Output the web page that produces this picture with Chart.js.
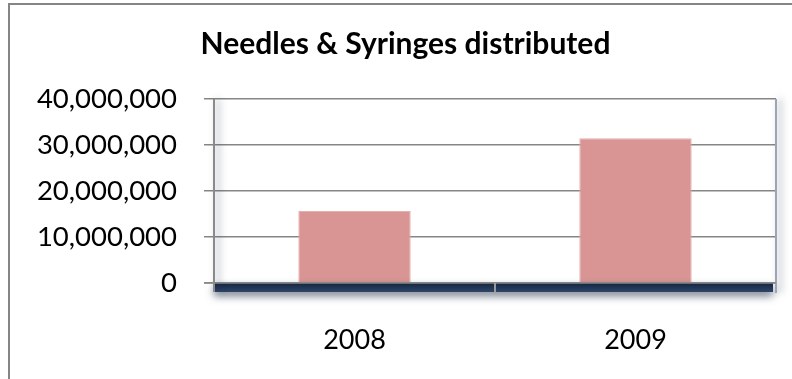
<!DOCTYPE html>
<html>
<head>
<meta charset="utf-8">
<script src="https://cdn.jsdelivr.net/npm/chart.js@4.4.1/dist/chart.umd.min.js"></script>
<style>
  html, body { margin: 0; padding: 0; background: #ffffff; }
  #wrap { position: relative; width: 792px; height: 379px; overflow: hidden; }
  #frame { position: absolute; left: 8px; top: 3px; width: 900px; height: 500px;
           border-left: 2px solid #858585; border-top: 2px solid #858585; pointer-events: none; }
  canvas { position: absolute; left: 0; top: 0; }
</style>
</head>
<body>
<div id="wrap">
  <canvas id="c" width="792" height="379"></canvas>
  <div id="frame"></div>
</div>
<script>
const title = "Needles & Syringes distributed";
const categories = ["2008", "2009"];
const seriesValues = [15650000, 31450000];
const yTickValues = [0, 10000000, 20000000, 30000000, 40000000];

const FONT = "Lato, 'Open Sans', sans-serif";

const decor = {
  id: 'decor',
  afterDatasetsDraw(chart) {
    const ctx = chart.ctx;
    const a = chart.chartArea;
    const y0 = chart.scales.y.getPixelForValue(0);
    ctx.save();
    // floor band
    ctx.shadowColor = 'rgba(20,35,60,0.6)';
    ctx.shadowBlur = 8;
    ctx.shadowOffsetY = 4;
    const g = ctx.createLinearGradient(0, y0, 0, y0 + 9);
    g.addColorStop(0, '#142540');
    g.addColorStop(1, '#2e4668');
    ctx.fillStyle = g;
    ctx.fillRect(a.left, y0, a.right - a.left - 3, 9);
    ctx.restore();

    ctx.save();
    // left axis with shadow
    ctx.shadowColor = 'rgba(40,50,80,0.5)';
    ctx.shadowBlur = 7;
    ctx.shadowOffsetX = 4;
    ctx.strokeStyle = '#8a8a8a';
    ctx.lineWidth = 2;
    ctx.beginPath();
    ctx.moveTo(a.left, a.top);
    ctx.lineTo(a.left, y0 + 9);
    ctx.stroke();
    // right edge with shadow
    ctx.strokeStyle = '#9ea4b4';
    ctx.beginPath();
    ctx.moveTo(a.right, a.top);
    ctx.lineTo(a.right, y0 + 10);
    ctx.stroke();
    ctx.restore();

    ctx.save();
    // zero line
    ctx.strokeStyle = '#8a8a8a';
    ctx.lineWidth = 1.5;
    ctx.beginPath();
    ctx.moveTo(a.left - 10, y0);
    ctx.lineTo(a.right, y0);
    ctx.stroke();
    // category separator tick
    const xs = chart.scales.x;
    const mid = (xs.getPixelForValue(0) + xs.getPixelForValue(1)) / 2;
    ctx.strokeStyle = '#9a9a9a';
    ctx.lineWidth = 2;
    ctx.beginPath();
    ctx.moveTo(mid, y0);
    ctx.lineTo(mid, y0 + 9);
    ctx.stroke();
    ctx.restore();
  }
};

new Chart(document.getElementById('c'), {
  type: 'bar',
  data: {
    labels: categories,
    datasets: [{
      data: seriesValues,
      backgroundColor: '#d99594',
      borderColor: '#e7b0af',
      borderWidth: 1,
      barPercentage: 0.4,
      categoryPercentage: 1.0
    }]
  },
  options: {
    responsive: false,
    animation: false,
    events: [],
    layout: { padding: { left: 35, right: 16, top: 0, bottom: 0 } },
    plugins: {
      legend: { display: false },
      tooltip: { enabled: false },
      title: {
        display: true,
        text: title,
        color: '#000000',
        font: { family: FONT, size: 30, weight: 'bold' },
        padding: { top: 26, bottom: 37 }
      }
    },
    scales: {
      x: {
        offset: true,
        grid: { display: false },
        border: { display: false },
        ticks: { color: '#000000', font: { family: FONT, size: 27 }, padding: 33 },
        afterFit(s) { s.height = 96; }
      },
      y: {
        min: 0,
        max: 40000000,
        afterBuildTicks(s) { s.ticks = yTickValues.map(v => ({ value: v })); },
        grid: { color: '#868686', lineWidth: 1.5, tickLength: 10, drawTicks: true },
        border: { display: false },
        ticks: {
          color: '#000000',
          font: { family: FONT, size: 27.5 },
          padding: 27,
          callback: v => Number(v).toLocaleString('en-US')
        },
        afterFit(s) { s.width = 179; }
      }
    }
  },
  plugins: [decor]
});
</script>
</body>
</html>
